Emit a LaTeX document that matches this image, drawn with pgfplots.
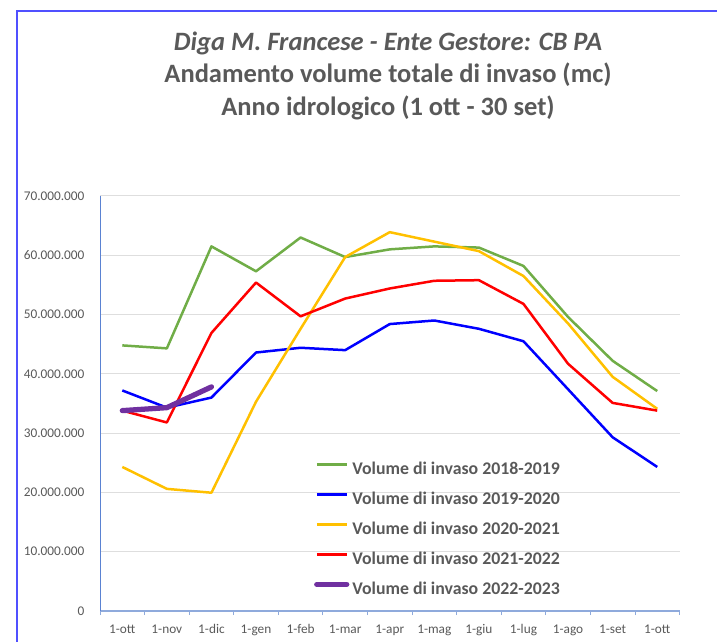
\documentclass[border=0pt]{standalone}
\usepackage{fontspec}
\setmainfont{Carlito}
\usepackage{pgfplots}
\pgfplotsset{compat=1.18}
\definecolor{txtgray}{RGB}{89,89,89}
\definecolor{framblue}{RGB}{80,80,255}
\definecolor{axblue}{RGB}{143,170,220}
\definecolor{yaxblue}{RGB}{90,130,210}
\definecolor{gridgray}{RGB}{222,222,222}
\definecolor{sgreen}{RGB}{112,173,71}
\definecolor{sblue}{RGB}{0,0,255}
\definecolor{syellow}{RGB}{255,192,0}
\definecolor{sred}{RGB}{255,0,0}
\definecolor{spurple}{RGB}{112,48,160}

% volumes (mc), one row per month from 1 ott to 1 ott
\pgfplotstableread{
x y
0  44800000
1  44300000
2  61500000
3  57300000
4  63000000
5  59700000
6  61000000
7  61500000
8  61300000
9  58200000
10 49600000
11 42200000
12 37100000
}\volA
\pgfplotstableread{
x y
0  37200000
1  34300000
2  36000000
3  43600000
4  44400000
5  44000000
6  48400000
7  49000000
8  47600000
9  45500000
10 37400000
11 29300000
12 24300000
}\volB
\pgfplotstableread{
x y
0  24300000
1  20600000
2  19950000
3  35300000
4  47600000
5  59700000
6  63900000
7  62300000
8  60700000
9  56500000
10 48500000
11 39500000
12 34100000
}\volC
\pgfplotstableread{
x y
0  33800000
1  31800000
2  46900000
3  55400000
4  49700000
5  52700000
6  54400000
7  55700000
8  55800000
9  51800000
10 41700000
11 35100000
12 33800000
}\volD
\pgfplotstableread{
x y
0  33800000
1  34300000
2  37800000
}\volE

\begin{document}
\begin{tikzpicture}[x=1pt,y=1pt]
\useasboundingbox (0,0) rectangle (717,642);
\draw[framblue, line width=2pt] (17,0) -- (17,631) -- (717,631);

\node[anchor=base, text=txtgray, font=\bfseries\itshape\fontsize{26.5}{32}\selectfont] at (388,591) {Diga M. Francese - Ente Gestore: CB PA};
\node[anchor=base, text=txtgray, font=\bfseries\fontsize{26.5}{32}\selectfont] at (388,559) {Andamento volume totale di invaso (mc)};
\node[anchor=base, text=txtgray, font=\bfseries\fontsize{26.5}{32}\selectfont] at (388,526) {Anno idrologico (1 ott - 30 set)};

\begin{axis}[
    at={(100pt,31pt)}, anchor=south west,
    scale only axis, width=579.5pt, height=415pt,
    xmin=-0.5, xmax=12.5, ymin=0, ymax=70000000,
    axis x line*=bottom, axis y line*=left,
    x axis line style={axblue, line width=1.5pt},
    y axis line style={yaxblue, line width=0.75pt},
    xtick={-0.5,0.5,1.5,2.5,3.5,4.5,5.5,6.5,7.5,8.5,9.5,10.5,11.5,12.5},
    x tick label as interval,
    xticklabels={1-ott,1-nov,1-dic,1-gen,1-feb,1-mar,1-apr,1-mag,1-giu,1-lug,1-ago,1-set,1-ott},
    ytick={0,10000000,20000000,30000000,40000000,50000000,60000000,70000000},
    scaled y ticks=false,
    /pgf/number format/assume math mode=true,
    /pgf/number format/fixed,
    /pgf/number format/precision=0,
    /pgf/number format/1000 sep={.},
    tick align=outside, major tick length=4pt,
    xtick style={axblue, line width=0.8pt},
    ytick style={draw=none},
    ymajorgrids, grid style={gridgray, line width=1pt},
    ticklabel style={text=txtgray, font=\fontsize{13.3}{16}\selectfont},
    yticklabel style={xshift=-8pt},
    xticklabel style={yshift=-6pt},
    clip=false,
    every axis plot/.append style={line width=2.5pt, line join=round},
    legend style={at={(0.364,0.366)}, anchor=north west, draw=none, fill=none,
        font=\bfseries\fontsize{17.8}{21}\selectfont, text=txtgray,
        nodes={inner sep=0pt, text height=13pt, text depth=4pt},
        row sep=13pt, column sep=3pt},
    legend cell align=left,
    legend image code/.code={\draw[#1] (0pt,5.5pt) -- (30pt,5.5pt);},
]
\addplot[sgreen] table {\volA};
\addlegendentry{Volume di invaso 2018-2019}
\addplot[sblue] table {\volB};
\addlegendentry{Volume di invaso 2019-2020}
\addplot[syellow] table {\volC};
\addlegendentry{Volume di invaso 2020-2021}
\addplot[sred] table {\volD};
\addlegendentry{Volume di invaso 2021-2022}
\addplot[spurple, line width=5.25pt, line cap=round] table {\volE};
\addlegendentry{Volume di invaso 2022-2023}
\end{axis}
\end{tikzpicture}
\end{document}
